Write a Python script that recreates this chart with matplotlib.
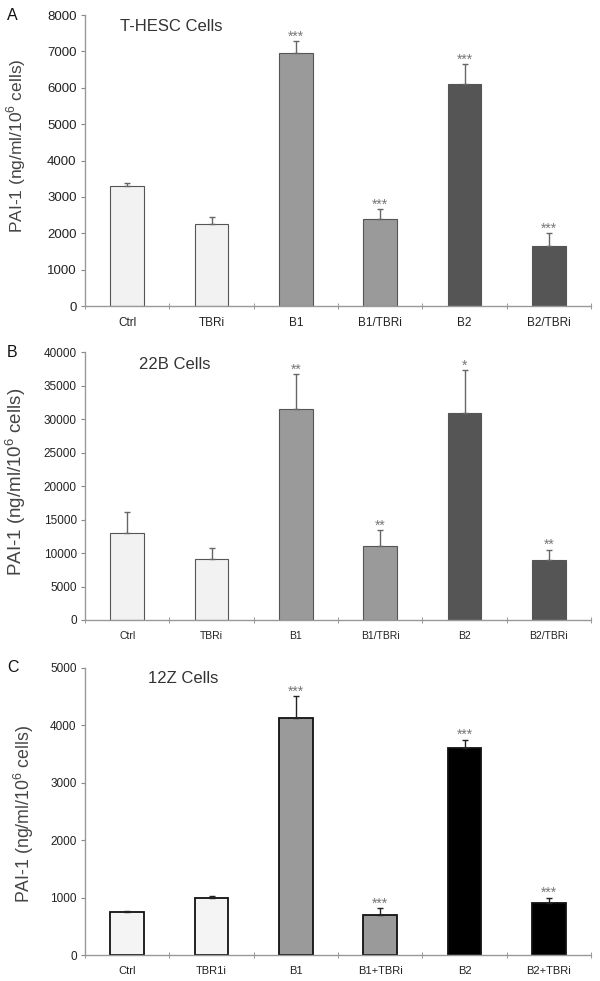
import matplotlib
matplotlib.use('Agg')
import matplotlib.pyplot as plt
import numpy as np

plt.rcParams['font.family'] = ['Liberation Sans', 'DejaVu Sans']
plt.rcParams['mathtext.fontset'] = 'custom'
plt.rcParams['mathtext.rm'] = 'Liberation Sans'

# panel A - T-HESC
labels_a = ['Ctrl', 'TBRi', 'B1', 'B1/TBRi', 'B2', 'B2/TBRi']
means_a = [3300, 2250, 6960, 2380, 6095, 1650]
errs_a = [90, 190, 320, 280, 560, 350]
stars_a = ['', '', '***', '***', '***', '***']

# panel B - 22B
labels_b = ['Ctrl', 'TBRi', 'B1', 'B1/TBRi', 'B2', 'B2/TBRi']
means_b = [12950, 9100, 31550, 11000, 30950, 8900]
errs_b = [3230, 1650, 5150, 2400, 6400, 1600]
stars_b = ['', '', '**', '**', '*', '**']

# panel C - 12Z
labels_c = ['Ctrl', 'TBR1i', 'B1', 'B1+TBRi', 'B2', 'B2+TBRi']
means_c = [745, 995, 4125, 700, 3605, 900]
errs_c = [15, 30, 380, 110, 145, 95]
stars_c = ['', '', '***', '***', '***', '***']

fig = plt.figure(figsize=(6.0, 9.81), dpi=100)

panels = [
    dict(pos=[0.1417, 0.688, 0.8433, 0.2967], letter='A', title='T-HESC Cells',
         tx=0.07, ty=0.96, labels=labels_a, means=means_a, errs=errs_a, stars=stars_a,
         ymax=8000, step=1000,
         colors=['#f2f2f2', '#f2f2f2', '#9a9a9a', '#9a9a9a', '#555555', '#555555'],
         edges=['#555555'] * 6, lw=0.8, xfs=8.5, yfs=9.5, lfs=12.5, lx=-0.113, ly=0.55,
         ecol='#666666'),
    dict(pos=[0.1417, 0.368, 0.8433, 0.2729], letter='B', title='22B Cells',
         tx=0.107, ty=0.953, labels=labels_b, means=means_b, errs=errs_b, stars=stars_b,
         ymax=40000, step=5000,
         colors=['#f2f2f2', '#f2f2f2', '#9a9a9a', '#9a9a9a', '#555555', '#555555'],
         edges=['#555555'] * 6, lw=0.8, xfs=7.5, yfs=8.5, lfs=13.5, lx=-0.113, ly=0.515,
         ecol='#666666'),
    dict(pos=[0.1417, 0.0265, 0.8433, 0.2929], letter='C', title='12Z Cells',
         tx=0.124, ty=0.964, labels=labels_c, means=means_c, errs=errs_c, stars=stars_c,
         ymax=5000, step=1000,
         colors=['#f4f4f4', '#f4f4f4', '#9a9a9a', '#9a9a9a', '#000000', '#000000'],
         edges=['#111111'] * 6, lw=1.3, xfs=8, yfs=8.5, lfs=12.8, lx=-0.097, ly=0.49,
         ecol='#222222'),
]

for p in panels:
    ax = fig.add_axes(p['pos'])
    x = np.arange(len(p['labels']))
    ax.bar(x, p['means'], width=0.4, color=p['colors'], edgecolor=p['edges'],
           linewidth=p['lw'], zorder=2)
    ax.errorbar(x, p['means'], yerr=[np.zeros(len(x)), p['errs']], fmt='none',
                ecolor=p['ecol'], elinewidth=1.0, capsize=2.5, capthick=1.0, zorder=3)
    for xi, m, e, s in zip(x, p['means'], p['errs'], p['stars']):
        if s:
            ax.text(xi, m + e + p['ymax'] * 0.002, s, ha='center', va='baseline',
                    fontsize=10, color='#777777')

    ax.set_xlim(-0.5, len(x) - 0.5)
    ax.set_ylim(0, p['ymax'])
    ax.set_yticks(np.arange(0, p['ymax'] + 1, p['step']))
    ax.tick_params(axis='y', labelsize=p['yfs'], length=3, color='#888888', direction='out',
                   labelcolor='#222222', pad=3)
    ax.set_xticks(x)
    ax.set_xticklabels(p['labels'], fontsize=p['xfs'], color='#222222')
    ax.set_xticks(np.arange(-0.5, len(x)), minor=True)
    ax.tick_params(axis='x', which='major', length=0, pad=8)
    ax.tick_params(axis='x', which='minor', length=5, direction='inout', color='#888888')
    for sp in ['top', 'right']:
        ax.spines[sp].set_visible(False)
    for sp in ['left', 'bottom']:
        ax.spines[sp].set_color('#999999')
        ax.spines[sp].set_linewidth(1.0)

    ax.set_ylabel('PAI-1 (ng/ml/10$^{6}$ cells)', fontsize=p['lfs'], color='#444444')
    ax.yaxis.set_label_coords(p['lx'], p['ly'])
    ax.text(p['tx'], p['ty'], p['title'], transform=ax.transAxes, fontsize=12,
            color='#333333', ha='left', va='center')
    ax.text(-0.154, 1.0, p['letter'], transform=ax.transAxes, fontsize=11.5,
            color='#111111', ha='left', va='center')

fig.savefig('out.png', dpi=100)
